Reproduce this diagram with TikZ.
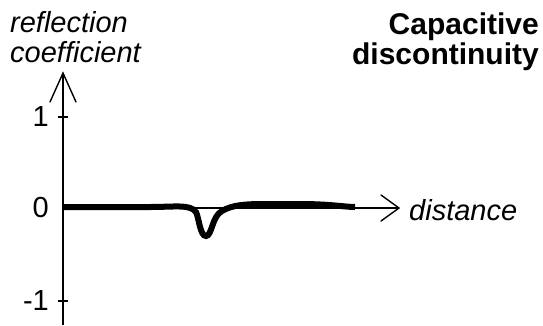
\documentclass[tikz,border=0pt]{standalone}
\usepackage{fontspec}
\setmainfont{Liberation Sans}
\begin{document}
\begin{tikzpicture}[x=1pt,y=-1pt,
  axis/.style={line width=1.4pt},
  tipline/.style={line width=1.4pt,line cap=round,line join=miter},
  lbl/.style={font=\fontsize{29}{32}\selectfont\itshape,inner sep=0pt},
  num/.style={font=\fontsize{29}{32}\selectfont,inner sep=0pt},
  ttl/.style={font=\fontsize{30}{30}\selectfont\bfseries,inner sep=0pt,align=right},
  curve/.style={line width=6pt}]
\useasboundingbox (0,0) rectangle (543,325);
% axes
\coordinate (O) at (63,208);
\coordinate (ytop) at (63,73);
\coordinate (ybot) at (63,325);
\coordinate (xend) at (399,208);
\draw[axis] (ybot) -- (ytop);
\draw[tipline] (50,102) -- (ytop) -- (76,102);
\draw[axis] (O) -- (xend);
\draw[tipline] (381,195) -- (xend) -- (381,221);
% ticks
\draw[axis] (58,117) -- (68,117);
\draw[axis] (58,301) -- (68,301);
% numbers
\node[num,anchor=east] (n1) at (49,117) {1};
\node[num,anchor=east] (n0) at (49,208) {0};
\node[num,anchor=east] (nm1) at (49,301) {-1};
% labels
\node[lbl,anchor=west] (l1) at (10,22) {reflection};
\node[lbl,anchor=west] (l2) at (10,52) {coefficient};
\node[lbl,anchor=west] (dist) at (409,210) {distance};
\node[ttl,anchor=north east] (title) at (539,13) {Capacitive\\discontinuity};
% curve
\draw[curve] (63,207) -- (150,207) .. controls (175,207) and (190,204) .. (196,212)
  .. controls (199,218) and (200,236) .. (206,236)
  .. controls (212,236) and (212,216) .. (222,211)
  .. controls (232,205) and (245,204) .. (265,204)
  -- (300,204) .. controls (330,204) and (345,207) .. (355,207);
\end{tikzpicture}
\end{document}
